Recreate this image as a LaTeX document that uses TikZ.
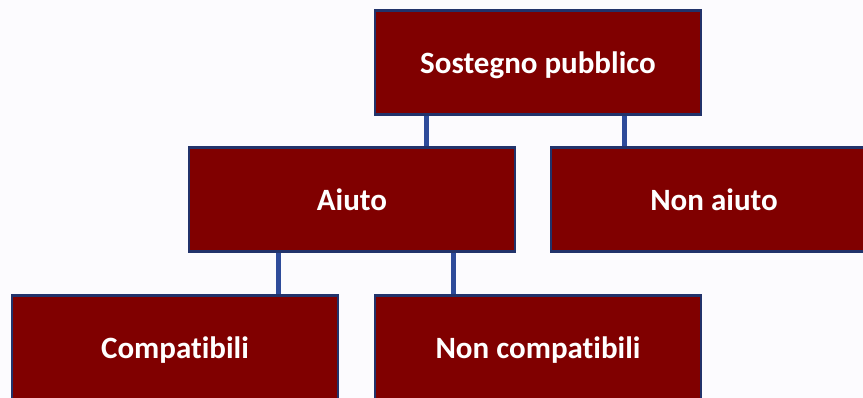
\documentclass[tikz,border=0pt]{standalone}
\usepackage{fontspec}
\setmainfont{Carlito}[Ligatures=NoCommon]
\usetikzlibrary{calc}
\definecolor{bg}{HTML}{FCFBFE}
\definecolor{boxfill}{HTML}{800000}
\definecolor{boxline}{HTML}{22336B}
\definecolor{conn}{HTML}{2E4B9A}
\tikzset{
  orgbox/.style={draw=boxline, line width=2.5pt, fill=boxfill, minimum width=326pt, minimum height=104pt,
    inner sep=0pt, text height=22pt, text depth=0pt, text=white, font=\fontsize{31}{36}\selectfont\bfseries, anchor=center},
  link/.style={draw=conn, line width=5pt}
}
\begin{document}
\begin{tikzpicture}[x=1pt,y=1pt]
\useasboundingbox (0,0) rectangle (863,-398);
\clip (0,0) rectangle (863,-398);
\fill[bg] (0,0) rectangle (863,-398);
\node[orgbox] (top) at (538,-62.5) {Sostegno pubblico};
\node[orgbox] (aiuto) at (352,-199.5) {Aiuto};
\node[orgbox] (nonaiuto) at (714,-199.5) {Non aiuto};
\node[orgbox] (comp) at (175,-347.5) {Compatibili};
\node[orgbox] (noncomp) at (538,-347.5) {Non compatibili};
\draw[link] ($(top.south west)+(53,0)$) -- ($(aiuto.north west)+(239,0)$);
\draw[link] ($(top.south west)+(251,0)$) -- ($(nonaiuto.north west)+(75,0)$);
\draw[link] ($(aiuto.south west)+(91,0)$) -- ($(comp.north west)+(268,0)$);
\draw[link] ($(aiuto.south west)+(266,0)$) -- ($(noncomp.north west)+(80,0)$);
\end{tikzpicture}
\end{document}
